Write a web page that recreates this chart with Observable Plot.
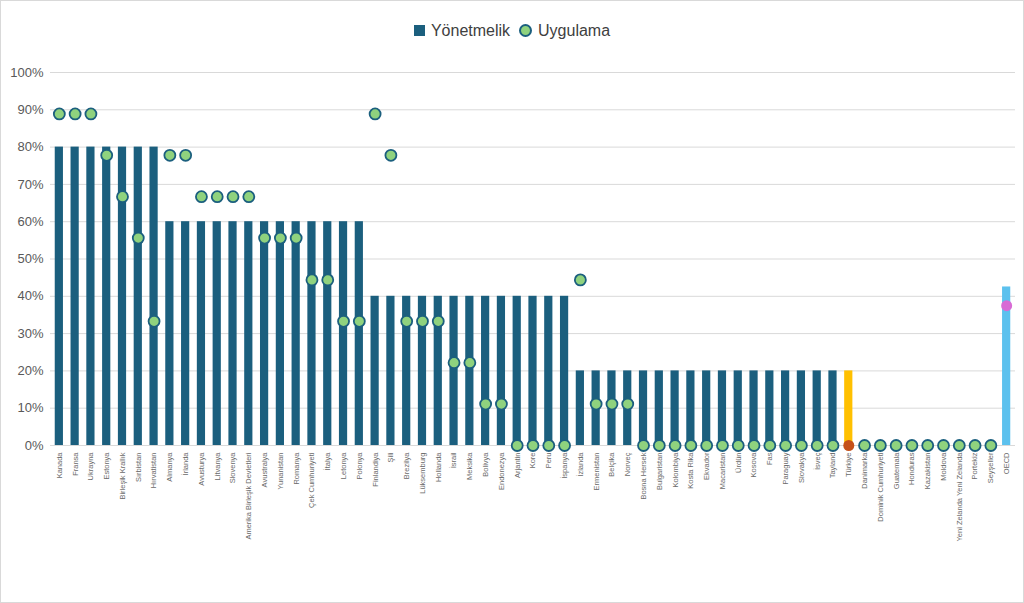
<!DOCTYPE html>
<html>
<head>
<meta charset="utf-8">
<script src="https://cdn.jsdelivr.net/npm/d3@7"></script>
<script src="https://cdn.jsdelivr.net/npm/@observablehq/plot@0.6"></script>
<style>
  html, body { margin: 0; padding: 0; background: #fff; }
  #wrap { width: 1024px; height: 603px; box-sizing: border-box; border: 1px solid #d9d9d9; position: relative; font-family: "Liberation Sans", Arial, sans-serif; }
  #legend { height: 49px; display: flex; justify-content: center; align-items: center; gap: 6px; font-size: 16px; color: #404040; padding-top: 10px; box-sizing: border-box; }
  .item { display: flex; align-items: center; gap: 6px; }
  .sq { width: 11px; height: 11px; background: #1B5F7E; display: inline-block; }
  .ci { width: 9px; height: 9px; border-radius: 50%; background: #8FD27E; border: 2px solid #1B5F7E; display: inline-block; }
</style>
</head>
<body>
<div id="wrap">
  <div id="legend">
    <span class="item"><span class="sq"></span>Yönetmelik</span>
    <span class="item" style="margin-left:3px"><span class="ci"></span>Uygulama</span>
  </div>
  <div id="chart"></div>
</div>
<script>
const categories = ["Kanada","Fransa","Ukrayna","Estonya","Birleşik Krallık","Sırbistan","Hırvatistan","Almanya","İrlanda","Avusturya","Litvanya","Slovenya","Amerika Birleşik Devletleri","Avustralya","Yunanistan","Romanya","Çek Cumhuriyeti","İtalya","Letonya","Polonya","Finlandiya","Şili","Brezilya","Lüksemburg","Hollanda","İsrail","Meksika","Bolivya","Endonezya","Arjantin","Kore","Peru","İspanya","İzlanda","Ermenistan","Belçika","Norveç","Bosna Hersek","Bulgaristan","Kolombiya","Kosta Rika","Ekvador","Macaristan","Ürdün","Kosova","Fas","Paraguay","Slovakya","İsveç","Tayland","Türkiye","Danimarka","Dominik Cumhuriyeti","Guatemala","Honduras","Kazakistan","Moldova","Yeni Zelanda Yeni Zelanda","Portekiz","Seyşeller","OECD"];

const yonetmelik = [80,80,80,80,80,80,80,60,60,60,60,60,60,60,60,60,60,60,60,60,40,40,40,40,40,40,40,40,40,40,40,40,40,20,20,20,20,20,20,20,20,20,20,20,20,20,20,20,20,20,20,0,0,0,0,0,0,0,0,0,42.5];

const uygulama = [88.9,88.9,88.9,77.8,66.7,55.6,33.3,77.8,77.8,66.7,66.7,66.7,66.7,55.6,55.6,55.6,44.4,44.4,33.3,33.3,88.9,77.8,33.3,33.3,33.3,22.2,22.2,11.1,11.1,0,0,0,0,44.4,11.1,11.1,11.1,0,0,0,0,0,0,0,0,0,0,0,0,0,0,0,0,0,0,0,0,0,0,0,37.5];

const yTicks = [0,10,20,30,40,50,60,70,80,90,100];

const data = categories.map((c, i) => ({country: c, reg: yonetmelik[i], imp: uygulama[i]}));

const barColor = d => d.country === "Türkiye" ? "#FFC000" : d.country === "OECD" ? "#5CC1EE" : "#1B5F7E";
const dotFill = d => d.country === "Türkiye" ? "#C5511A" : d.country === "OECD" ? "#D86BD5" : "#8FD27E";
const dotStroke = d => (d.country === "Türkiye" || d.country === "OECD") ? "none" : "#1B5F7E";

const chart = Plot.plot({
  width: 1022,
  height: 552,
  marginTop: 22,
  marginLeft: 49,
  marginRight: 8,
  marginBottom: 157,
  style: {fontFamily: "Liberation Sans, Arial, sans-serif", background: "#fff"},
  x: {domain: categories, padding: 0.48, paddingOuter: 0.3, label: null},
  y: {domain: [0, 100], label: null},
  marks: [
    Plot.gridY(yTicks, {stroke: "#d9d9d9", strokeOpacity: 1, strokeWidth: 1}),
    Plot.axisY(yTicks, {tickSize: 0, tickPadding: 7, tickFormat: d => d + "%", fontSize: 13, fill: "#595959", label: null}),
    Plot.axisX({tickSize: 0, tickRotate: -90, tickPadding: 7, fontSize: 7.5, fill: "#6a6a6a", label: null}),
    Plot.barY(data, {x: "country", y: "reg", fill: barColor}),
    Plot.dot(data, {x: "country", y: "imp", r: 5.5, fill: dotFill, stroke: dotStroke, strokeWidth: 1.8})
  ]
});
document.getElementById("chart").appendChild(chart);
</script>
</body>
</html>
